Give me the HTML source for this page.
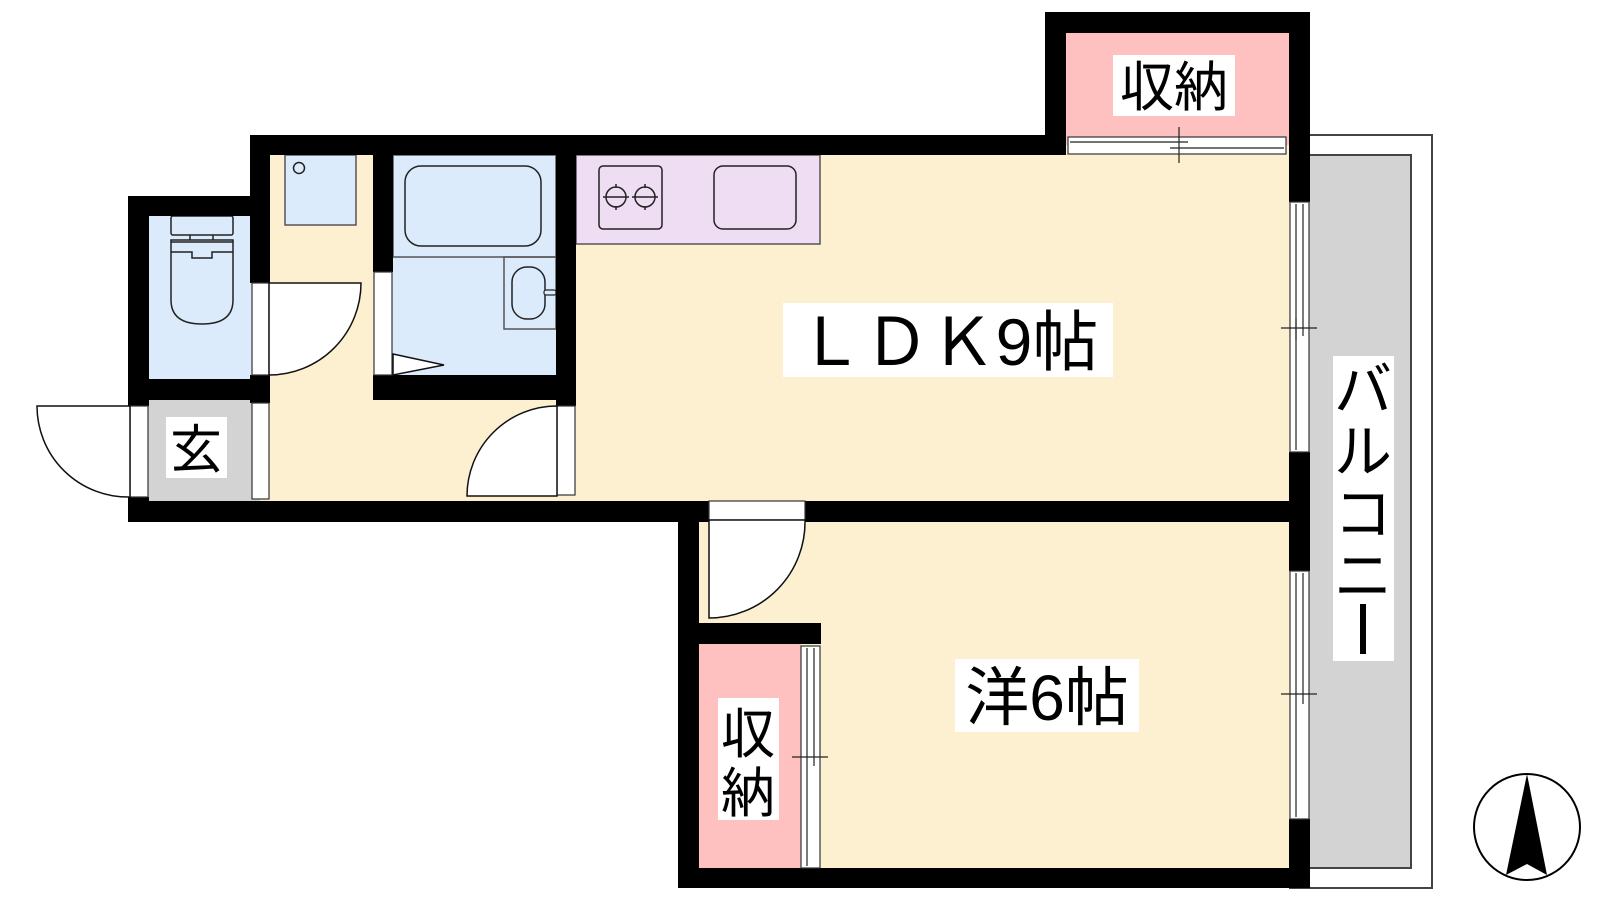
<!DOCTYPE html>
<html><head><meta charset="utf-8"><style>
html,body{margin:0;padding:0;background:#fff;}
svg{display:block}
text{font-family:"Liberation Sans","Noto Sans CJK JP",sans-serif;fill:#000}
</style></head><body>
<svg width="1600" height="900" viewBox="0 0 1600 900" xmlns="http://www.w3.org/2000/svg">
<!-- balcony -->
<rect x="1290" y="135" width="142" height="753" fill="#fff" stroke="#444" stroke-width="2"/>
<rect x="1295" y="155" width="116" height="713" fill="#d3d3d3" stroke="#444" stroke-width="2"/>
<!-- floors -->
<rect x="260" y="145" width="306" height="366" fill="#fdf0d0"/>
<rect x="566" y="145" width="734" height="366" fill="#fdf0d0"/>
<rect x="688" y="511" width="612" height="367" fill="#fdf0d0"/>
<rect x="1056" y="22" width="244" height="123" fill="#ffc0c0"/>
<rect x="699" y="644" width="102" height="224" fill="#ffc0c0"/>
<rect x="140" y="206" width="120" height="183" fill="#dcebfb"/>
<rect x="383" y="145" width="183" height="245" fill="#dcebfb"/>
<rect x="140" y="389" width="120" height="122" fill="#d3d3d3"/>
<!-- kitchen -->
<rect x="576" y="155" width="244" height="89" fill="#eeddf3" stroke="#555" stroke-width="1.5"/>
<rect x="599" y="166" width="63" height="63" rx="4" fill="none" stroke="#222" stroke-width="1.5"/>
<g stroke="#222" stroke-width="1.5" fill="none">
<circle cx="616" cy="197" r="10"/><circle cx="645" cy="197" r="10"/>
<line x1="603" y1="197" x2="629" y2="197"/><line x1="632" y1="197" x2="658" y2="197"/>
<line x1="616" y1="184" x2="616" y2="188"/><line x1="616" y1="206" x2="616" y2="210"/>
<line x1="645" y1="184" x2="645" y2="188"/><line x1="645" y1="206" x2="645" y2="210"/>
</g>
<rect x="612" y="190" width="8" height="0" fill="none"/>
<rect x="714" y="166" width="82" height="63" rx="9" fill="none" stroke="#222" stroke-width="1.5"/>
<!-- washer -->
<rect x="285" y="155" width="71" height="70" fill="#dcebfb" stroke="#555" stroke-width="1.5"/>
<circle cx="299" cy="168" r="5.5" fill="none" stroke="#222" stroke-width="1.5"/>
<!-- bath -->
<rect x="393" y="155" width="163" height="102" fill="none" stroke="#555" stroke-width="1.5"/>
<rect x="405" y="166" width="136" height="80" rx="16" fill="none" stroke="#222" stroke-width="1.5"/>
<rect x="504" y="257" width="52" height="72" fill="none" stroke="#555" stroke-width="1.5"/>
<rect x="512" y="267" width="33" height="52" rx="15" fill="none" stroke="#222" stroke-width="1.5"/>
<rect x="544" y="290" width="12" height="5" rx="2" fill="#dcebfb" stroke="#222" stroke-width="1.2"/>
<!-- toilet -->
<rect x="171" y="216" width="62" height="19" rx="2" fill="none" stroke="#222" stroke-width="1.5"/>
<line x1="190" y1="235" x2="190" y2="240" stroke="#222" stroke-width="1.5"/>
<line x1="213" y1="235" x2="213" y2="240" stroke="#222" stroke-width="1.5"/>
<path d="M171 242 H233 M171 252 H192 V258 H212 V252 H233 M171 240 V300 Q171 324 202 324 Q233 324 233 300 V240 Z" fill="none" stroke="#222" stroke-width="1.5"/>
<!-- walls -->
<g fill="#000">
<rect x="1045" y="12" width="265" height="21"/>
<rect x="1045" y="12" width="21" height="143"/>
<rect x="1289" y="12" width="21" height="190"/>
<rect x="1289" y="452" width="21" height="119"/>
<rect x="1289" y="819" width="21" height="69"/>
<rect x="250" y="135" width="816" height="20"/>
<rect x="128" y="196" width="142" height="20"/>
<rect x="128" y="196" width="21" height="210"/>
<rect x="128" y="497" width="21" height="25"/>
<rect x="250" y="135" width="20" height="148"/>
<rect x="128" y="379" width="142" height="21"/>
<rect x="250" y="375" width="20" height="28"/>
<rect x="373" y="135" width="20" height="137"/>
<rect x="373" y="375" width="203" height="25"/>
<rect x="556" y="135" width="20" height="271"/>
<rect x="128" y="501" width="581" height="21"/>
<rect x="805" y="501" width="505" height="21"/>
<rect x="678" y="501" width="21" height="387"/>
<rect x="678" y="868" width="632" height="20"/>
<rect x="699" y="623" width="122" height="21"/>
</g>
<!-- window / door frames -->
<g fill="#fff" stroke="#333" stroke-width="1.2">
<rect x="1068" y="137" width="218" height="17"/>
<rect x="1290" y="202" width="19" height="250"/>
<rect x="1290" y="571" width="19" height="248"/>
<rect x="801" y="646" width="19" height="222"/>
<rect x="130" y="406" width="18" height="91"/>
<rect x="252" y="403" width="17" height="96"/>
<rect x="252" y="283" width="17" height="92"/>
<rect x="374" y="272" width="18" height="103"/>
<rect x="557" y="406" width="18" height="89"/>
<rect x="709" y="501" width="96" height="19"/>
</g>
<g stroke="#222" stroke-width="1.2" fill="none">
<line x1="1070" y1="142" x2="1188" y2="142"/><line x1="1170" y1="148" x2="1284" y2="148"/><line x1="1179" y1="127" x2="1179" y2="163"/>
<line x1="1296" y1="204" x2="1296" y2="450"/><line x1="1303" y1="204" x2="1303" y2="336"/><line x1="1281" y1="328" x2="1317" y2="328"/><line x1="1296" y1="318" x2="1296" y2="340"/>
<line x1="1296" y1="573" x2="1296" y2="817"/><line x1="1303" y1="573" x2="1303" y2="704"/><line x1="1281" y1="694" x2="1317" y2="694"/>
<line x1="807" y1="648" x2="807" y2="866"/><line x1="814" y1="648" x2="814" y2="766"/><line x1="792" y1="757" x2="828" y2="757"/>
</g>
<!-- doors -->
<g fill="#fff" stroke="#111" stroke-width="1.5">
<path d="M269 283 H361 A92 92 0 0 1 269 375 Z"/>
<path d="M130 406 H37 A91 91 0 0 0 130 497 Z"/>
<path d="M557 406 A90 90 0 0 0 467 496 H557 Z"/>
<path d="M709 520 H805 A96 96 0 0 1 709 618 Z"/>
<path d="M393 354 L444 365 L393 375 Z"/>
</g>
<!-- labels -->
<rect x="783" y="303" width="330" height="74" fill="#fff"/>
<text x="948" y="365" font-size="66" text-anchor="middle">ＬＤＫ9帖</text>
<rect x="955" y="659" width="184" height="73" fill="#fff"/>
<text x="1047" y="720" font-size="64" text-anchor="middle">洋6帖</text>
<rect x="1113" y="55" width="122" height="61" fill="#fff"/>
<text x="1174" y="106" font-size="54" text-anchor="middle">収納</text>
<rect x="718" y="698" width="61" height="122" fill="#fff"/>
<text x="748" y="753" font-size="54" text-anchor="middle">収</text>
<text x="748" y="812" font-size="54" text-anchor="middle">納</text>
<rect x="166" y="417" width="61" height="61" fill="#fff"/>
<text x="196" y="468" font-size="52" text-anchor="middle">玄</text>
<rect x="1333" y="356" width="61" height="305" fill="#fff"/>
<g font-size="58" text-anchor="middle">
<text x="1363" y="410">バ</text><text x="1363" y="472">ル</text><text x="1363" y="534">コ</text><text x="1363" y="596">ニ</text>
</g>
<rect x="1360" y="604" width="6" height="50" fill="#000"/>
<!-- compass -->
<circle cx="1527" cy="827" r="53" fill="#fff" stroke="#000" stroke-width="2"/>
<path d="M1527 774 L1547 875 L1527 864 L1506 875 Z" fill="#000"/>
</svg>
</body></html>
